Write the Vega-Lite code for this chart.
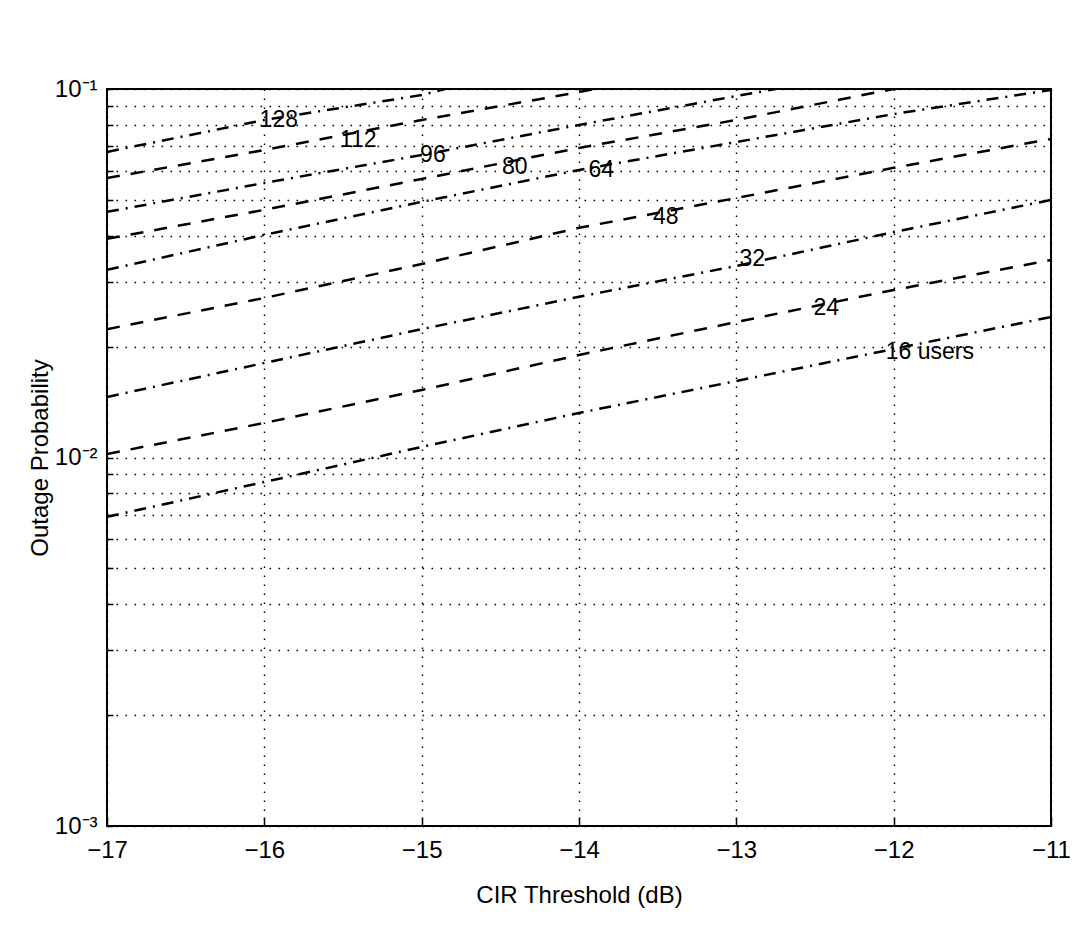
{
  "$schema": "https://vega.github.io/schema/vega-lite/v6.json",
  "width": 944,
  "height": 737,
  "autosize": {"type": "none"},
  "padding": {"left": 107, "top": 89, "right": 31, "bottom": 125},
  "background": "white",
  "config": {
    "font": "Liberation Sans",
    "view": {"stroke": "black", "strokeWidth": 2},
    "axis": {
      "labelFont": "Liberation Sans",
      "titleFont": "Liberation Sans",
      "labelFontSize": 24,
      "titleFontSize": 24,
      "titleFontWeight": "normal",
      "labelColor": "black",
      "titleColor": "black",
      "domain": false,
      "gridColor": "black",
      "gridDash": [1.6, 7.4],
      "gridWidth": 1.4,
      "gridOpacity": 1,
      "tickColor": "black",
      "tickWidth": 1.5
    }
  },
  "datasets": {
    "curves": [
      {"users": 16, "cir": -17, "p": 0.0069},
      {"users": 16, "cir": -16, "p": 0.00858},
      {"users": 16, "cir": -15, "p": 0.01068},
      {"users": 16, "cir": -14, "p": 0.01321},
      {"users": 16, "cir": -13, "p": 0.01613},
      {"users": 16, "cir": -12, "p": 0.0197},
      {"users": 16, "cir": -11, "p": 0.02406},
      {"users": 24, "cir": -17, "p": 0.01022},
      {"users": 24, "cir": -16, "p": 0.01241},
      {"users": 24, "cir": -15, "p": 0.01525},
      {"users": 24, "cir": -14, "p": 0.01897},
      {"users": 24, "cir": -13, "p": 0.02332},
      {"users": 24, "cir": -12, "p": 0.02848},
      {"users": 24, "cir": -11, "p": 0.03435},
      {"users": 32, "cir": -17, "p": 0.0146},
      {"users": 32, "cir": -16, "p": 0.01805},
      {"users": 32, "cir": -15, "p": 0.0223},
      {"users": 32, "cir": -14, "p": 0.0273},
      {"users": 32, "cir": -13, "p": 0.0331},
      {"users": 32, "cir": -12, "p": 0.0409},
      {"users": 32, "cir": -11, "p": 0.05},
      {"users": 48, "cir": -17, "p": 0.0223},
      {"users": 48, "cir": -16, "p": 0.0271},
      {"users": 48, "cir": -15, "p": 0.0335},
      {"users": 48, "cir": -14, "p": 0.042},
      {"users": 48, "cir": -13, "p": 0.0506},
      {"users": 48, "cir": -12, "p": 0.0611},
      {"users": 48, "cir": -11, "p": 0.0732},
      {"users": 64, "cir": -17, "p": 0.0323},
      {"users": 64, "cir": -16, "p": 0.0402},
      {"users": 64, "cir": -15, "p": 0.0494},
      {"users": 64, "cir": -14, "p": 0.0603},
      {"users": 64, "cir": -13, "p": 0.0718},
      {"users": 64, "cir": -12, "p": 0.0855},
      {"users": 64, "cir": -11, "p": 0.0994},
      {"users": 80, "cir": -17, "p": 0.0392},
      {"users": 80, "cir": -16, "p": 0.047},
      {"users": 80, "cir": -15, "p": 0.057},
      {"users": 80, "cir": -14, "p": 0.0692},
      {"users": 80, "cir": -13, "p": 0.0824},
      {"users": 80, "cir": -12, "p": 0.1},
      {"users": 96, "cir": -17, "p": 0.0464},
      {"users": 96, "cir": -16, "p": 0.0556},
      {"users": 96, "cir": -15, "p": 0.0662},
      {"users": 96, "cir": -14, "p": 0.0799},
      {"users": 96, "cir": -13, "p": 0.0957},
      {"users": 96, "cir": -12.75, "p": 0.1},
      {"users": 112, "cir": -17, "p": 0.0573},
      {"users": 112, "cir": -16, "p": 0.0683},
      {"users": 112, "cir": -15, "p": 0.0824},
      {"users": 112, "cir": -14, "p": 0.0981},
      {"users": 112, "cir": -13.9, "p": 0.1},
      {"users": 128, "cir": -17, "p": 0.0675},
      {"users": 128, "cir": -16, "p": 0.0824},
      {"users": 128, "cir": -15, "p": 0.0963},
      {"users": 128, "cir": -14.85, "p": 0.1}
    ],
    "labels": [
      {"text": "128", "cir": -16.03, "p": 0.0824},
      {"text": "112", "cir": -15.52, "p": 0.0727},
      {"text": "96", "cir": -15.01, "p": 0.0662},
      {"text": "80", "cir": -14.49, "p": 0.0614},
      {"text": "64", "cir": -13.94, "p": 0.0603},
      {"text": "48", "cir": -13.53, "p": 0.0449},
      {"text": "32", "cir": -12.98, "p": 0.0346},
      {"text": "24", "cir": -12.51, "p": 0.0254},
      {"text": "16 users", "cir": -12.05, "p": 0.0193}
    ]
  },
  "layer": [
    {
      "data": {"name": "curves"},
      "mark": {"type": "line", "color": "black", "strokeWidth": 2.5, "clip": true},
      "encoding": {
        "x": {
          "field": "cir",
          "type": "quantitative",
          "scale": {"domain": [-17, -11], "nice": false, "zero": false},
          "axis": {
            "values": [-17, -16, -15, -14, -13, -12, -11],
            "format": "d",
            "grid": true,
            "labelFlush": false,
            "labelDx": -6,
            "labelPadding": 21,
            "tickSize": -9,
            "title": "CIR Threshold (dB)",
            "titleY": 57
          }
        },
        "y": {
          "field": "p",
          "type": "quantitative",
          "scale": {"type": "log", "domain": [0.001, 0.1], "nice": false},
          "axis": {
            "values": [0.001, 0.002, 0.003, 0.004, 0.005, 0.006, 0.007, 0.008, 0.009, 0.01, 0.02, 0.03, 0.04, 0.05, 0.06, 0.07, 0.08, 0.09, 0.1],
            "labelExpr": "datum.value > 0.095 ? '10⁻¹' : (datum.value > 0.0095 && datum.value < 0.0105) ? '10⁻²' : datum.value < 0.00105 ? '10⁻³' : ''",
            "grid": true,
            "tickSize": -6,
            "labelPadding": 16,
            "title": "Outage Probability",
            "titleX": -67,
            "titleBaseline": "middle"
          }
        },
        "strokeDash": {
          "field": "users",
          "type": "ordinal",
          "scale": {
            "domain": [16, 24, 32, 48, 64, 80, 96, 112, 128],
            "range": [[12, 7, 2, 7], [13, 11], [12, 7, 2, 7], [13, 11], [12, 7, 2, 7], [13, 11], [12, 7, 2, 7], [13, 11], [12, 7, 2, 7]]
          },
          "legend": null
        }
      }
    },
    {
      "data": {"name": "labels"},
      "mark": {"type": "text", "align": "left", "baseline": "middle", "fontSize": 23, "font": "Liberation Sans", "color": "black"},
      "encoding": {
        "x": {"field": "cir", "type": "quantitative"},
        "y": {"field": "p", "type": "quantitative"},
        "text": {"field": "text", "type": "nominal"}
      }
    }
  ]
}
